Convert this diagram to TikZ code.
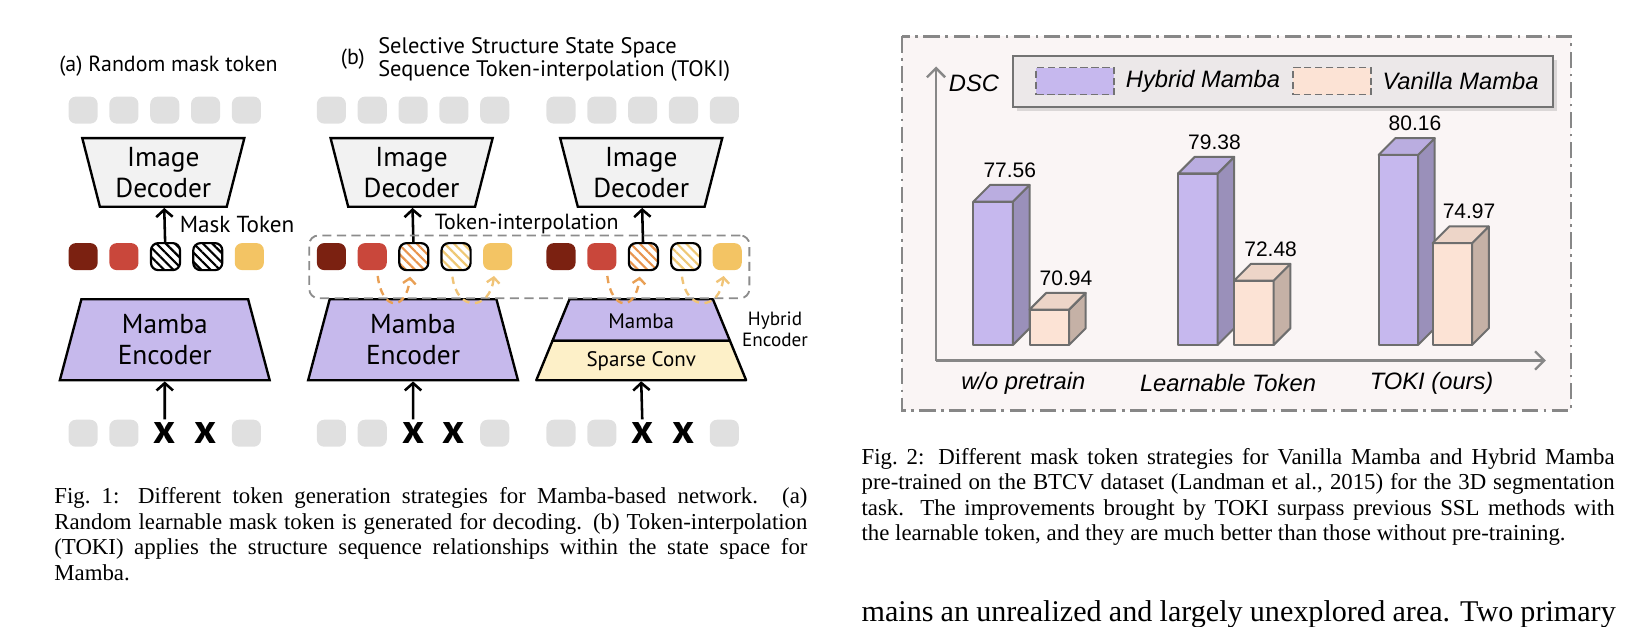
\documentclass[tikz,border=0pt]{standalone}
\usepackage{fontspec}
\setmainfont{Liberation Serif}
\newfontfamily\figfont{PT Sans}
\newfontfamily\chartfont{Liberation Sans}
\usepackage{tikz}
\usetikzlibrary{shapes.geometric,arrows.meta,positioning,fit,calc,patterns.meta,shadows}
\definecolor{tokgray}{RGB}{224,224,224}
\definecolor{tokdark}{RGB}{123,33,17}
\definecolor{tokred}{RGB}{201,71,59}
\definecolor{tokyellow}{RGB}{243,196,100}
\definecolor{hatchorange}{RGB}{232,148,78}
\definecolor{hatchlight}{RGB}{238,200,117}
\definecolor{decgray}{RGB}{242,242,242}
\definecolor{lavender}{RGB}{198,185,236}
\definecolor{sparsecream}{RGB}{253,240,200}
\definecolor{interporange}{RGB}{233,160,85}
\definecolor{interplight}{RGB}{240,196,120}
\definecolor{boxgray}{RGB}{140,140,140}
\definecolor{chartbg}{RGB}{250,245,245}
\definecolor{framegray}{RGB}{135,135,135}
\definecolor{legendbg}{RGB}{236,232,233}
\definecolor{legendedge}{RGB}{115,115,115}
\definecolor{barlav}{RGB}{198,184,238}
\definecolor{barpeach}{RGB}{252,227,213}
\definecolor{baredge}{RGB}{110,110,110}

\begin{document}
\begin{tikzpicture}[x=0.02cm, y=-0.02cm,
    tok/.style={rectangle, rounded corners=4pt, minimum width=0.56cm, minimum height=0.52cm, inner sep=0pt},
    greytok/.style={tok, fill=tokgray},
    hatchtok/.style={tok, draw=black, line width=1.2pt,
        pattern={Lines[angle=-45,distance=3.6pt,line width=1.2pt]}},
    crossmark/.style={tok, font=\figfont\fontsize{23}{23}\selectfont\bfseries},
    dec/.style={trapezium, shape border rotate=180, trapezium angle=72, trapezium stretches body,
        minimum width=3.12cm, minimum height=1.32cm, inner sep=1pt, draw, line width=1.3pt,
        fill=decgray, align=center, font=\figfont\fontsize{15}{17}\selectfont},
    enc/.style={trapezium, trapezium angle=68.3, trapezium stretches body,
        minimum width=4.04cm, minimum height=1.56cm, inner sep=1pt, draw, line width=1.3pt,
        fill=lavender, align=center, font=\figfont\fontsize{15}{17}\selectfont},
    hybpart/.style={draw, line width=1.3pt, line join=round},
    hybtxt/.style={inner sep=1pt, font=\figfont\fontsize{11.5}{13}\selectfont},
    lbl/.style={inner sep=1pt, font=\figfont\fontsize{12.7}{14}\selectfont},
    arrow/.style={-{Straight Barb[length=4pt,width=9pt]}, line width=1.4pt},
    interp/.style={-{Straight Barb[length=3pt,width=7pt]}, line width=1.3pt,
        dash pattern=on 4pt off 3pt},
    dashbox/.style={draw=boxgray, line width=1pt, dash pattern=on 5pt off 3pt, rounded corners=5pt,
        inner sep=0.14cm},
    chartframe/.style={draw=framegray, fill=chartbg, line width=1.4pt,
        dash pattern=on 9pt off 3pt on 1.5pt off 3pt},
    axisline/.style={-{Straight Barb[length=5pt,width=10pt]}, draw=framegray, line width=1.3pt},
    bar/.style={draw=baredge, line width=1.1pt, line join=round},
    num/.style={anchor=south, inner sep=4pt, font=\chartfont\fontsize{11.5}{13}\selectfont},
    cat/.style={inner sep=0pt, font=\chartfont\itshape\fontsize{13}{15}\selectfont},
    legtxt/.style={inner sep=0pt, font=\chartfont\itshape\fontsize{13}{15}\selectfont},
    legendbox/.style={draw=legendedge, fill=legendbg, line width=1.4pt, minimum width=10.4cm,
        minimum height=0.98cm, drop shadow={opacity=0.25, shadow xshift=2pt, shadow yshift=-2pt}},
    swatch/.style={draw=legendedge, line width=1pt, dash pattern=on 4pt off 2pt,
        minimum width=1.5cm, minimum height=0.52cm},
    captxt/.style={anchor=north west, inner sep=0pt, text width=14.5cm, align=justify,
        font=\fontsize{12.5}{14}\selectfont}
]
\useasboundingbox (0,0) rectangle (1568,602.6);

% ---------- Fig. 1 ----------
\node[lbl, anchor=west, font=\figfont\fontsize{12}{13}\selectfont] (titleA) at (55,64) {(a) Random mask token};
\node[lbl, anchor=west, font=\figfont\fontsize{12}{13}\selectfont] (titleB) at (326,57) {(b)};
\node[lbl, anchor=west, align=left, font=\figfont\fontsize{12.3}{12.5}\selectfont] (titleBtxt) at (362,57)
    {Selective Structure State Space\\Sequence Token-interpolation (TOKI)};

\foreach \g/\x/\ha/\hb in {A/80/black/black, B/319/hatchorange/hatchlight, C/540/hatchorange/hatchlight}{
    % tokens to reconstruct
    \node[greytok] (top\g1) at (\x,106) {};
    \foreach \i [count=\j from 2] in {1,...,4}
        \node[greytok, right=0.212cm of top\g\i] (top\g\j) {};
    % encoded sequence with masked slots
    \node[tok, fill=tokdark] (mid\g1) at (\x,247) {};
    \node[tok, fill=tokred, right=0.212cm of mid\g1] (mid\g2) {};
    \node[hatchtok, pattern color=\ha, right=0.212cm of mid\g2] (mid\g3) {};
    \node[hatchtok, pattern color=\hb, right=0.212cm of mid\g3] (mid\g4) {};
    \node[tok, fill=tokyellow, right=0.212cm of mid\g4] (mid\g5) {};
    % input with dropped tokens
    \node[greytok] (bot\g1) at (\x,417) {};
    \node[greytok, right=0.212cm of bot\g1] (bot\g2) {};
    \node[crossmark, right=0.212cm of bot\g2] (bot\g3) {x};
    \node[crossmark, right=0.212cm of bot\g3] (bot\g4) {x};
    \node[greytok, right=0.212cm of bot\g4] (bot\g5) {};
    \node[dec] (dec\g) at (\x+77.2,166) {Image\\Decoder};
    \draw[arrow] (mid\g3) -- (dec\g);
}

\foreach \g in {A,B}{
    \node[enc] (enc\g) at ($(bot\g3)+(0,-90)$) {Mamba\\Encoder};
    \draw[arrow] (bot\g3) -- (enc\g);
}
% hybrid encoder: mamba over sparse conv
\filldraw[hybpart, fill=lavender] (548.2,288) -- (686.2,288) -- (702.6,328) -- (531.8,328) -- cycle;
\filldraw[hybpart, fill=sparsecream] (531.8,328) -- (702.6,328) -- (718.2,366) -- (516.2,366) -- cycle;
\node[hybtxt] (encCm) at (617.2,309) {Mamba};
\node[hybtxt] (encCs) at (617.2,348) {Sparse Conv};
\coordinate (encCbase) at (617.2,367);
\draw[arrow] (botC3) -- (encCbase);
\node[lbl, align=center, font=\figfont\fontsize{10.5}{11.5}\selectfont] (hyblbl) at (746,317) {Hybrid\\Encoder};

\node[lbl, anchor=west] (masklbl) at (171,216) {Mask Token};
\node[lbl, font=\figfont\fontsize{12}{14}\selectfont] (interplbl) at (507,216) {Token-interpolation};

\coordinate (boxlow) at (700,280);
\node[dashbox, fit=(midB1)(midC5)(boxlow)] (interpbox) {};
\foreach \g in {B,C}{
    \draw[interp, draw=interporange] ([xshift=3pt,yshift=-3pt]mid\g2.south) .. controls +(4,34) and +(-4,34) .. ([xshift=-2pt,yshift=-3pt]mid\g3.south);
    \draw[interp, draw=interplight] ([xshift=-2pt,yshift=-3pt]mid\g4.south) .. controls +(4,34) and +(-4,34) .. ([xshift=-2pt,yshift=-3pt]mid\g5.south);
}

% ---------- Fig. 2 ----------
\draw[chartframe] (868,35) rectangle (1512,395);
\coordinate (origin) at (901,347);
\coordinate (ytip) at (901,64);
\coordinate (xtip) at (1488,347);
\draw[axisline] (origin) -- (ytip);
\draw[axisline] (origin) -- (xtip);
\node[legtxt, anchor=west] (dsc) at (913,80) {DSC};

\node[legendbox] (legend) at (1235,78.5) {};
\node[swatch, fill=barlav] (swlav) at (1035,78) {};
\node[legtxt, right=0.2cm of swlav] (txtlav) {Hybrid Mamba};
\node[swatch, fill=barpeach] (swpeach) at (1282,78) {};
\node[legtxt, right=0.2cm of swpeach] (txtpeach) {Vanilla Mamba};

\foreach \bx/\by/\val/\col [count=\k] in {937/194/77.56/barlav, 991/298/70.94/barpeach,
        1134/167/79.38/barlav, 1188/270/72.48/barpeach, 1327/149/80.16/barlav, 1379/234/74.97/barpeach}{
    \filldraw[bar, fill=\col] (\bx,332) rectangle (\bx+38,\by);
    \filldraw[bar, fill=\col!78!black] (\bx+38,332) -- ++(16,-16) -- (\bx+54,\by-16) -- (\bx+38,\by) -- cycle;
    \filldraw[bar, fill=\col!94!black] (\bx,\by) -- (\bx+16,\by-16) -- (\bx+54,\by-16) -- (\bx+38,\by) -- cycle;
    \node[num] (val\k) at (\bx+35,\by-16) {\val};
}
\node[cat] (cat1) at (985,369) {w/o pretrain};
\node[cat] (cat2) at (1182,369) {Learnable Token};
\node[cat] (cat3) at (1378,369) {TOKI (ours)};

% ---------- captions ----------
\node[captxt] (cap1) at (52,469) {Fig.~1: Different token generation strategies for Mamba-based network. (a)\linebreak
    Random learnable mask token is generated for decoding. (b) Token-interpolation\linebreak
    (TOKI) applies the structure sequence relationships within the state space for\linebreak
    Mamba.};
\node[captxt] (cap2) at (829,431) {Fig.~2: Different mask token strategies for Vanilla Mamba and Hybrid Mamba\linebreak
    pre-trained on the BTCV dataset (Landman et al., 2015) for the 3D segmentation\linebreak
    task. The improvements brought by TOKI surpass previous SSL methods with\linebreak
    the learnable token, and they are much better than those without pre-training.};
\node[anchor=base west, inner sep=0pt, font=\fontsize{16.5}{18}\selectfont] (bodytxt) at (829,598)
    {\makebox[14.52cm][s]{mains an unrealized and largely unexplored area. Two primary}};
\end{tikzpicture}
\end{document}
